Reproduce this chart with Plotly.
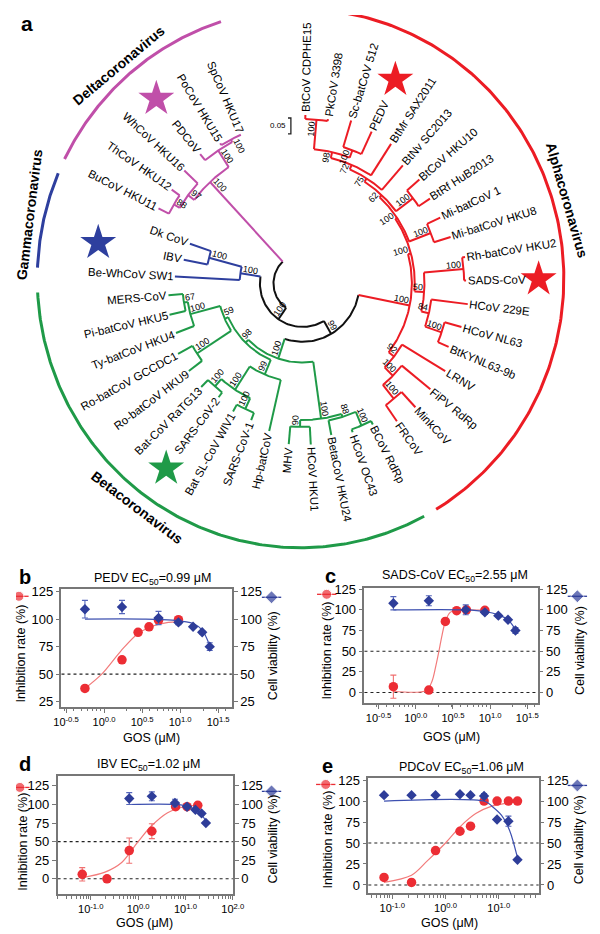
import numpy as np
import plotly.graph_objects as go

# the page puts the figure 8 px in from the top-left corner; every position
# below is given in page pixels and converted with P()
OFF = 8
PAGE_W, PAGE_H = 600, 934
W, H = PAGE_W - OFF, PAGE_H - OFF
FONT = "Arial, Liberation Sans, sans-serif"

# ---------------- panel a: phylogenetic tree ----------------
LEAF_NAMES = [
    "BtCoV CDPHE15", "PkCoV 3398", "Sc-batCoV 512", "PEDV", "BtMr SAX2011",
    "BtNv SC2013", "BtCoV HKU10", "BtRf HuB2013", "Mi-batCoV 1", "Mi-batCoV HKU8",
    "Rh-batCoV HKU2", "SADS-CoV", "HCoV 229E", "HCoV NL63", "BtKYNL63-9b",
    "LRNV", "FiPV RdRp", "MinkCoV", "FRCoV",
    "BCoV RdRp", "HCoV OC43", "BetaCoV HKU24", "HCoV HKU1", "MHV",
    "Hp-batCoV", "SARS-CoV-1", "Bat SL-CoV WIV1", "SARS-CoV-2", "Bat-CoV RaTG13",
    "Ro-batCoV HKU9", "Ro-batCoV GCCDC1", "Ty-batCoV HKU4", "Pi-batCoV HKU5", "MERS-CoV",
    "Be-WhCoV SW1", "IBV", "Dk CoV",
    "BuCoV HKU11", "ThCoV HKU12", "WhCoV HKU16", "PDCoV", "PoCoV HKU15", "SpCoV HKU17",
]
# tip distance from the root centre (tree units = px)
LEAF_TIP_R = [170, 168, 172, 169, 168, 158, 160, 157, 157, 160,
              170, 169, 172, 170, 164, 172, 170, 171, 170,
              160, 159, 156, 163, 163, 153, 148, 148, 144, 148,
              147, 147, 140, 141, 139,
              132, 125, 123,
              167, 165, 167, 168, 165, 163]

CLADE_NAMES = ["Alphacoronavirus", "Betacoronavirus", "Gammacoronavirus", "Deltacoronavirus"]
CLADE_SIZES = [19, 15, 3, 6]
CLADE_COLORS = ["#ec1c24", "#1f9a48", "#2e3f9e", "#c04fa9"]

# internal nodes: (bootstrap, node radius, children); leaves are indices
ALPHA = (100, 113, [
    (100, 116, [
        (100, 118, [
            (62, 121, [
                (75, 125, [
                    (72, 130, [
                        (98, 136, [(100, 166, [0, 1]), (100, 144, [2, 3])]),
                        4]),
                    5]),
                (100, 143, [6, 7])]),
            (100, 142, [8, 9])]),
        (50, 126, [(100, 167, [10, 11]), (84, 134, [12, (100, 152, [13, 14])])])]),
    (92, 120, [15, (100, 132, [16, (100, 150, [17, 18])])])])
BETA = (100, 80, [
    (100, 138, [(88, 141, [(100, 156, [19, 20]), 21]), (90, 145, [22, 23])]),
    (98, 84, [
        (99, 100, [24, (100, 128, [(100, 140, [25, 26]), (100, 138, [27, 28])])]),
        (59, 88, [(100, 130, [29, 30]), (100, 120, [31, (67, 124, [32, 33])])])])])
GAMMA = (100, 65, [34, (100, 100, [35, 36])])
DELTA = (100, 140, [(97, 148, [(88, 155, [37, 38]), 39]),
                    (100, 160, [40, (100, 163, [41, 42])])])
ROOT = (None, 30, [DELTA, (100, 44, [GAMMA, (99, 59, [ALPHA, BETA])])])

STARRED = ["PEDV", "SADS-CoV", "IBV", "SARS-CoV-2", "PDCoV"]

# ---------------- panels b-e: dose response ----------------
PEDV_INH_X = [0.56, 1.72, 2.8, 3.9, 5.2, 9.5]
PEDV_INH_Y = [37, 63, 88, 93, 99, 99.5]
PEDV_INH_ERR = [0, 0, 0, 0, 0, 0]
PEDV_VIA_X = [0.56, 1.72, 5.2, 9.5, 14.8, 19.5, 24.5]
PEDV_VIA_Y = [109, 111, 101, 97, 93, 88, 75]
PEDV_VIA_ERR = [8, 6, 6, 2, 1.5, 1.5, 3.5]
PEDV_INH_FIT_X = [0.56, 0.93, 1.66, 2.8, 4.5, 7.0, 9.6]
PEDV_INH_FIT_Y = [37, 50, 71, 87, 94, 97, 97.5]
PEDV_VIA_FIT_X = [0.56, 3.2, 7.9, 14.8, 19.5, 24.5]
PEDV_VIA_FIT_Y = [100, 100, 99, 96, 90, 76]

SADS_INH_X = [0.5, 1.5, 2.5, 3.55, 4.8, 8.5]
SADS_INH_Y = [7, 3, 86, 99, 100, 99.5]
SADS_INH_ERR = [14, 3, 0, 0, 0, 0]
SADS_VIA_X = [0.5, 1.5, 4.7, 8.5, 12.9, 17.4, 21.9]
SADS_VIA_Y = [108, 111, 100, 97, 93, 88, 75]
SADS_VIA_ERR = [8, 6, 6, 2.5, 1.5, 1.5, 3.5]
SADS_INH_FIT_X = [0.5, 1.39, 1.66, 1.86, 2.05, 2.24, 2.5, 2.9, 3.5, 8.5]
SADS_INH_FIT_Y = [1.5, 2.5, 14, 32, 50, 68, 86, 97, 99.5, 99.5]
SADS_VIA_FIT_X = [0.5, 4.7, 8.5, 12.9, 17.4, 21.9]
SADS_VIA_FIT_Y = [100, 100, 98, 94, 88, 76]

IBV_INH_X = [0.066, 0.22, 0.65, 1.95, 6.2, 10.8, 18.2]
IBV_INH_Y = [6, 0, 38, 64, 97, 97, 99]
IBV_INH_ERR = [9, 0, 17, 10, 2, 2, 0]
IBV_VIA_X = [0.65, 1.95, 6.0, 10.8, 16.2, 21.9, 27]
IBV_VIA_Y = [108, 111, 102, 97, 93, 88, 75]
IBV_VIA_ERR = [8, 6, 5, 2, 2, 2, 2]
IBV_INH_FIT_X = [0.066, 0.2, 0.45, 1.0, 1.9, 4.2, 9.2, 20]
IBV_INH_FIT_Y = [1.5, 9, 22, 50, 71, 89, 97, 99]
IBV_VIA_FIT_X = [0.65, 8, 12.6, 20.4, 27]
IBV_VIA_FIT_Y = [100, 99.5, 96, 89, 77]

PDCOV_X = [0.07, 0.23, 0.65, 1.87, 2.95, 5.3, 9.3, 15.2, 22.5]
PDCOV_INH_Y = [9, 3, 41, 64, 70, 100, 100, 100, 100]
PDCOV_INH_ERR = [0, 0, 0, 0, 0, 0, 0, 0, 0]
PDCOV_VIA_Y = [107, 107, 107, 108, 107, 106, 78, 76, 30]
PDCOV_VIA_ERR = [0, 0, 0, 0, 0, 3, 0, 6, 0]
PDCOV_INH_FIT_X = [0.07, 0.23, 0.46, 1.0, 1.85, 3.7, 7.4, 22.8]
PDCOV_INH_FIT_Y = [3, 11.5, 29, 50, 69, 85, 94, 99]
PDCOV_VIA_FIT_X = [0.07, 5.6, 7.4, 11.3, 16, 22.8]
PDCOV_VIA_FIT_Y = [100, 99.5, 94, 83, 65, 31]

HALF_DEC_TICKS = [10 ** -0.5, 1, 10 ** 0.5, 10, 10 ** 1.5]
HALF_DEC_TEXT = ["10<sup>-0.5</sup>", "10<sup>0.0</sup>", "10<sup>0.5</sup>",
                 "10<sup>1.0</sup>", "10<sup>1.5</sup>"]
DEC_TICKS = [0.1, 1, 10, 100]
DEC_TEXT = ["10<sup>-1.0</sup>", "10<sup>0.0</sup>", "10<sup>1.0</sup>", "10<sup>2.0</sup>"]
E_TICKS = [0.1, 1, 10]
E_TEXT = ["10<sup>-1.0</sup>", "10<sup>0.0</sup>", "10<sup>1.0</sup>"]

RED, RED_FIT = "#ec2d34", "#f27b7b"
BLUE, BLUE_FIT = "#2e3d99", "#3d50b0"
AXC = "#777777"

# ---------------- helpers ----------------
AW = dict(zip("ABCDEFGHIJKLMNOPQRSTUVWXYZ",
              [667, 667, 722, 722, 667, 611, 778, 722, 278, 500, 667, 556, 833,
               722, 778, 667, 778, 722, 667, 611, 722, 667, 944, 667, 667, 611]))
AW.update(zip("abcdefghijklmnopqrstuvwxyz",
              [556, 556, 500, 556, 556, 278, 556, 556, 222, 222, 500, 222, 833,
               556, 556, 556, 556, 333, 500, 278, 556, 500, 722, 500, 500, 500]))
AW.update({d: 556 for d in "0123456789"})
AW.update({" ": 278, "-": 333, ".": 278})


def text_w(s, size):
    return sum(AW.get(ch, 556) for ch in s) * size / 1000.0


def P(xp, yp):
    # page pixel -> paper fraction
    return (xp - OFF) / W, 1 - (yp - OFF) / H


def xy(t, r):
    t = np.radians(t)
    return r * np.cos(t), r * np.sin(t)


def rot(t):
    t = (t + 180) % 360 - 180
    if -90 <= t <= 90:
        return -t
    return (180 - t + 180) % 360 - 180


START, STEP = 89.0, 8.0


def ang(pos):
    return START - STEP * pos


leaf_clade = np.repeat(np.arange(len(CLADE_SIZES)), CLADE_SIZES)


def build(node):
    if isinstance(node, int):
        return dict(pos=float(node), r=LEAF_TIP_R[node], leaf=node, kids=[], bs=None,
                    clades={int(leaf_clade[node])})
    bs, r, kids = node
    ks = [build(k) for k in kids]
    ps = [k["pos"] for k in ks]
    return dict(pos=(min(ps) + max(ps)) / 2, lo=min(ps), hi=max(ps), r=r, leaf=None,
                kids=ks, bs=bs, clades=set().union(*(k["clades"] for k in ks)))


def col(n):
    if len(n["clades"]) == 1:
        return CLADE_COLORS[next(iter(n["clades"]))]
    return "#111111"


segs = {}


def seg(c, xs, ys):
    a = segs.setdefault(c, ([], []))
    a[0].extend(list(xs) + [None])
    a[1].extend(list(ys) + [None])


bs_nodes = []


def walk(n):
    if n["leaf"] is not None:
        return
    th = np.linspace(ang(n["lo"]), ang(n["hi"]), 60)
    x, y = xy(th, n["r"])
    seg(col(n), x, y)
    for k in n["kids"]:
        t = ang(k["pos"])
        x0, y0 = xy(t, n["r"])
        x1, y1 = xy(t, k["r"])
        seg(col(k), [x0, x1], [y0, y1])
        walk(k)
    if n["bs"] is not None:
        bs_nodes.append(n)


tree = build(ROOT)
walk(tree)

fig = go.Figure()
ann = []
shapes = []

# tree centre sits at page pixel (304, 279); tree panel spans page y 8..560
CX, CY = 304, 279
TX, TY = "x5", "y9"
for c in ["#111111"] + CLADE_COLORS:
    if c in segs:
        fig.add_trace(go.Scatter(x=segs[c][0], y=segs[c][1], mode="lines",
                                 line=dict(color=c, width=2), xaxis=TX, yaxis=TY,
                                 hoverinfo="skip"))

# clade arcs and names
ARC_C = (-2, 5)
ARC_R = 272
CLADE_ARC = [(91, -59), (-62, -177), (157, 177.7), (107.6, 153.7)]
CLADE_LABEL_ANG = [16, -126, 167, 131]
CLADE_LABEL_R = [286, 286, 287, 286]
CLADE_LABEL_TILT = [74, 37, -83, -40]
for k in range(4):
    th = np.linspace(CLADE_ARC[k][0], CLADE_ARC[k][1], 200)
    x, y = xy(th, ARC_R)
    fig.add_trace(go.Scatter(x=x + ARC_C[0], y=y + ARC_C[1], mode="lines",
                             line=dict(color=CLADE_COLORS[k], width=3),
                             xaxis=TX, yaxis=TY, hoverinfo="skip"))
    lx, ly = xy(CLADE_LABEL_ANG[k], CLADE_LABEL_R[k])
    ann.append(dict(x=lx + ARC_C[0], y=ly + ARC_C[1], xref=TX, yref=TY,
                    text="<b>%s</b>" % CLADE_NAMES[k], textangle=CLADE_LABEL_TILT[k],
                    showarrow=False, font=dict(size=14, color="black"),
                    xanchor="center", yanchor="middle"))

# leaf labels
LEAF_FS = 11.5
for i, name in enumerate(LEAF_NAMES):
    t = ang(i)
    w = text_w(name, LEAF_FS)
    x, y = xy(t, LEAF_TIP_R[i] + 3 + w / 2)
    ann.append(dict(x=x, y=y, xref=TX, yref=TY, text=name, textangle=rot(t), showarrow=False,
                    font=dict(size=LEAF_FS, color="black"), xanchor="center", yanchor="middle"))

# bootstrap values
BS_FS = 9
for n in bs_nodes:
    t = ang(n["pos"])
    s = str(n["bs"])
    w = text_w(s, BS_FS)
    side = 1 if np.cos(np.radians(t)) >= 0 else -1
    x, y = xy(t, n["r"] - 2 - w / 2)
    tr = np.radians(t)
    x += side * 5 * -np.sin(tr)
    y += side * 5 * np.cos(tr)
    ann.append(dict(x=x, y=y, xref=TX, yref=TY, text=s, textangle=rot(t), showarrow=False,
                    font=dict(size=BS_FS, color="black"), xanchor="center", yanchor="middle"))

# stars on the tested viruses
STAR_R = [227, 244, 215, 234, 240]
for j, name in enumerate(STARRED):
    i = LEAF_NAMES.index(name)
    x, y = xy(ang(i), STAR_R[j])
    fig.add_trace(go.Scatter(x=[x], y=[y], mode="markers", xaxis=TX, yaxis=TY, hoverinfo="skip",
                             marker=dict(symbol="star", size=27,
                                         color=CLADE_COLORS[int(leaf_clade[i])], line=dict(width=0))))

# scale bar
shapes.append(dict(type="path", xref=TX, yref=TY, path="M -15,167 L -12,167 L -12,151 L -15,151",
                   line=dict(color="#222", width=1.3)))
ann.append(dict(x=-25, y=159, xref=TX, yref=TY, text="0.05", showarrow=False,
                font=dict(size=8, color="black"), xanchor="center", yanchor="middle"))
ax_, ay_ = P(19, 17)
ann.append(dict(x=ax_, y=ay_, xref="paper", yref="paper", text="<b>a</b>", showarrow=False,
                font=dict(size=21, color="black"), xanchor="center", yanchor="middle"))

# ---------------- dose response panels ----------------
PANELS = [
    dict(letter="b", virus="PEDV", ec50="0.99", box=(55, 231, 588, 707),
         xr=[-0.56, 1.68], yr=[20, 127], xt=(HALF_DEC_TICKS, HALF_DEC_TEXT),
         yt=[25, 50, 75, 100, 125], dotted=[50],
         inh=(PEDV_INH_X, PEDV_INH_Y, PEDV_INH_ERR), via=(PEDV_VIA_X, PEDV_VIA_Y, PEDV_VIA_ERR),
         fi=(PEDV_INH_FIT_X, PEDV_INH_FIT_Y), fv=(PEDV_VIA_FIT_X, PEDV_VIA_FIT_Y),
         title_xy=(149, 578), letter_xy=(17, 576), lt=(13, 653), rt=(273, 655),
         lk=(11, 595), rk=(272, 596), gos=(148, 738)),
    dict(letter="c", virus="SADS-CoV", ec50="2.55", box=(368, 547, 587, 703),
         xr=[-0.69, 1.64], yr=[-13, 126], xt=(HALF_DEC_TICKS, HALF_DEC_TEXT),
         yt=[0, 25, 50, 75, 100, 125], dotted=[0, 50],
         inh=(SADS_INH_X, SADS_INH_Y, SADS_INH_ERR), via=(SADS_VIA_X, SADS_VIA_Y, SADS_VIA_ERR),
         fi=(SADS_INH_FIT_X, SADS_INH_FIT_Y), fv=(SADS_VIA_FIT_X, SADS_VIA_FIT_Y),
         title_xy=(462, 575), letter_xy=(333, 575), lt=(329, 650), rt=(590, 650),
         lk=(329, 593), rk=(588, 595), gos=(458, 737)),
    dict(letter="d", virus="IBV", ec50="1.02", box=(51, 232, 776, 896),
         xr=[-1.7, 2.0], yr=[-21, 139], xt=(DEC_TICKS, DEC_TEXT),
         yt=[0, 25, 50, 75, 100, 125], dotted=[0, 50],
         inh=(IBV_INH_X, IBV_INH_Y, IBV_INH_ERR), via=(IBV_VIA_X, IBV_VIA_Y, IBV_VIA_ERR),
         fi=(IBV_INH_FIT_X, IBV_INH_FIT_Y), fv=(IBV_VIA_FIT_X, IBV_VIA_FIT_Y),
         title_xy=(145, 765), letter_xy=(17, 764), lt=(15, 843), rt=(273, 840),
         lk=(12, 788), rk=(272, 792), gos=(141, 925)),
    dict(letter="e", virus="PDCoV", ec50="1.06", box=(372, 548, 778, 895),
         xr=[-1.45, 1.75], yr=[-10, 128], xt=(E_TICKS, E_TEXT),
         yt=[0, 25, 50, 75, 100, 125], dotted=[0, 50],
         inh=(PDCOV_X, PDCOV_INH_Y, PDCOV_INH_ERR), via=(PDCOV_X, PDCOV_VIA_Y, PDCOV_VIA_ERR),
         fi=(PDCOV_INH_FIT_X, PDCOV_INH_FIT_Y), fv=(PDCOV_VIA_FIT_X, PDCOV_VIA_FIT_Y),
         title_xy=(468, 768), letter_xy=(330, 766), lt=(330, 841), rt=(590, 841),
         lk=(328, 785), rk=(588, 786), gos=(456, 925)),
]

AX = dict(showline=True, linecolor=AXC, linewidth=1.5, ticks="outside", ticklen=4,
          tickwidth=1.3, tickcolor=AXC, showgrid=False, zeroline=False, fixedrange=True,
          tickfont=dict(family=FONT, size=13, color="black"))
MINOR = [k * 10.0 ** e for e in range(-3, 3) for k in range(2, 10)]

axes = {}
for i, p in enumerate(PANELS):
    xa = "x" if i == 0 else "x%d" % (i + 1)
    yl = "y" if i == 0 else "y%d" % (2 * i + 1)
    yr = "y%d" % (2 * i + 2)
    x0, x1, y0, y1 = p["box"]
    dx0, dy1 = P(x0, y0)
    dx1, dy0 = P(x1, y1)
    axes["xaxis" if i == 0 else "xaxis%d" % (i + 1)] = dict(
        AX, type="log", domain=[dx0, dx1], range=p["xr"], anchor=yl, mirror=True,
        tickvals=p["xt"][0], ticktext=p["xt"][1], tickfont=dict(family=FONT, size=11, color="black"),
        minor=dict(ticks="outside", ticklen=2.5, tickwidth=1, tickcolor=AXC, tickvals=MINOR))
    axes["yaxis" if i == 0 else "yaxis%d" % (2 * i + 1)] = dict(
        AX, domain=[dy0, dy1], range=p["yr"], anchor=xa, tickvals=p["yt"])
    axes["yaxis%d" % (2 * i + 2)] = dict(
        AX, range=p["yr"], anchor=xa, overlaying=yl, side="right", tickvals=p["yt"])

    for lv in p["dotted"]:
        shapes.append(dict(type="line", xref="%s domain" % xa, yref=yl, x0=0, x1=1, y0=lv, y1=lv,
                           line=dict(color="#222", width=1.1, dash="dot"), layer="below"))

    fig.add_trace(go.Scatter(x=p["fi"][0], y=p["fi"][1], mode="lines", xaxis=xa, yaxis=yl,
                             line=dict(color=RED_FIT, width=1.2, shape="spline", smoothing=0.9),
                             hoverinfo="skip"))
    fig.add_trace(go.Scatter(x=p["fv"][0], y=p["fv"][1], mode="lines", xaxis=xa, yaxis=yr,
                             line=dict(color=BLUE_FIT, width=1.2, shape="spline", smoothing=0.9),
                             hoverinfo="skip"))
    fig.add_trace(go.Scatter(x=p["via"][0], y=p["via"][1], mode="markers", xaxis=xa, yaxis=yr,
                             marker=dict(symbol="diamond", size=8, color=BLUE),
                             error_y=dict(type="data", array=p["via"][2], color="#5566bb",
                                          thickness=1.1, width=3), hoverinfo="skip"))
    fig.add_trace(go.Scatter(x=p["inh"][0], y=p["inh"][1], mode="markers", xaxis=xa, yaxis=yl,
                             marker=dict(symbol="circle", size=9.5, color=RED),
                             error_y=dict(type="data", array=p["inh"][2], color="#f07070",
                                          thickness=1.1, width=3), hoverinfo="skip"))

    # texts
    tx, ty = P(*p["title_xy"])
    ann.append(dict(x=tx, y=ty, xref="paper", yref="paper", showarrow=False,
                    text="%s EC<sub>50</sub>=%s μM" % (p["virus"], p["ec50"]),
                    font=dict(size=12.5, color="black"), xanchor="center", yanchor="middle"))
    lx, ly = P(*p["letter_xy"])
    ann.append(dict(x=lx, y=ly, xref="paper", yref="paper", showarrow=False,
                    text="<b>%s</b>" % p["letter"], font=dict(size=20, color="black"),
                    xanchor="center", yanchor="middle"))
    for key, txt in (("lt", "Inhibition rate (%)"), ("rt", "Cell viability (%)")):
        tx, ty = P(*p[key])
        ann.append(dict(x=tx, y=ty, xref="paper", yref="paper", showarrow=False, text=txt,
                        textangle=-90, font=dict(size=12.5, color="black"),
                        xanchor="center", yanchor="middle"))
    gx, gy = P(*p["gos"])
    ann.append(dict(x=gx, y=gy, xref="paper", yref="paper", showarrow=False, text="GOS (μM)",
                    font=dict(size=12.5, color="black"), xanchor="center", yanchor="middle"))

    # symbol keys next to the axis titles
    kx, ky = p["lk"]
    fig.add_trace(go.Scatter(x=[kx - 10, kx, kx + 10], y=[ky, ky, ky], mode="lines+markers",
                             xaxis="x6", yaxis="y10", hoverinfo="skip",
                             line=dict(color=RED, width=1.3),
                             marker=dict(symbol="circle", size=[0, 10, 0], color=RED)))
    kx, ky = p["rk"]
    fig.add_trace(go.Scatter(x=[kx - 10, kx, kx + 10], y=[ky, ky, ky], mode="lines+markers",
                             xaxis="x6", yaxis="y10", hoverinfo="skip",
                             line=dict(color=BLUE, width=1.3),
                             marker=dict(symbol="diamond", size=[0, 10, 0], color=BLUE)))

# tree axes in page pixels relative to the tree centre
_, ty_bot = P(0, 560)
axes["xaxis5"] = dict(domain=[0, 1], range=[OFF - CX, OFF + W - CX], visible=False,
                      fixedrange=True, anchor="y9")
axes["yaxis9"] = dict(domain=[ty_bot, 1], range=[CY - 560, CY - OFF], visible=False,
                      fixedrange=True, anchor="x5")
# overlay axes in page pixels for the symbol keys
axes["xaxis6"] = dict(domain=[0, 1], range=[OFF, OFF + W], visible=False, fixedrange=True,
                      anchor="y10")
axes["yaxis10"] = dict(domain=[0, 1], range=[OFF + H, OFF], visible=False, fixedrange=True,
                       anchor="x6")

fig.update_layout(width=W, height=H, margin=dict(l=0, r=0, t=0, b=0),
                  paper_bgcolor="white", plot_bgcolor="rgba(0,0,0,0)", showlegend=False,
                  font=dict(family=FONT, color="black"), annotations=ann, shapes=shapes, **axes)

fig.write_html("out.html")
